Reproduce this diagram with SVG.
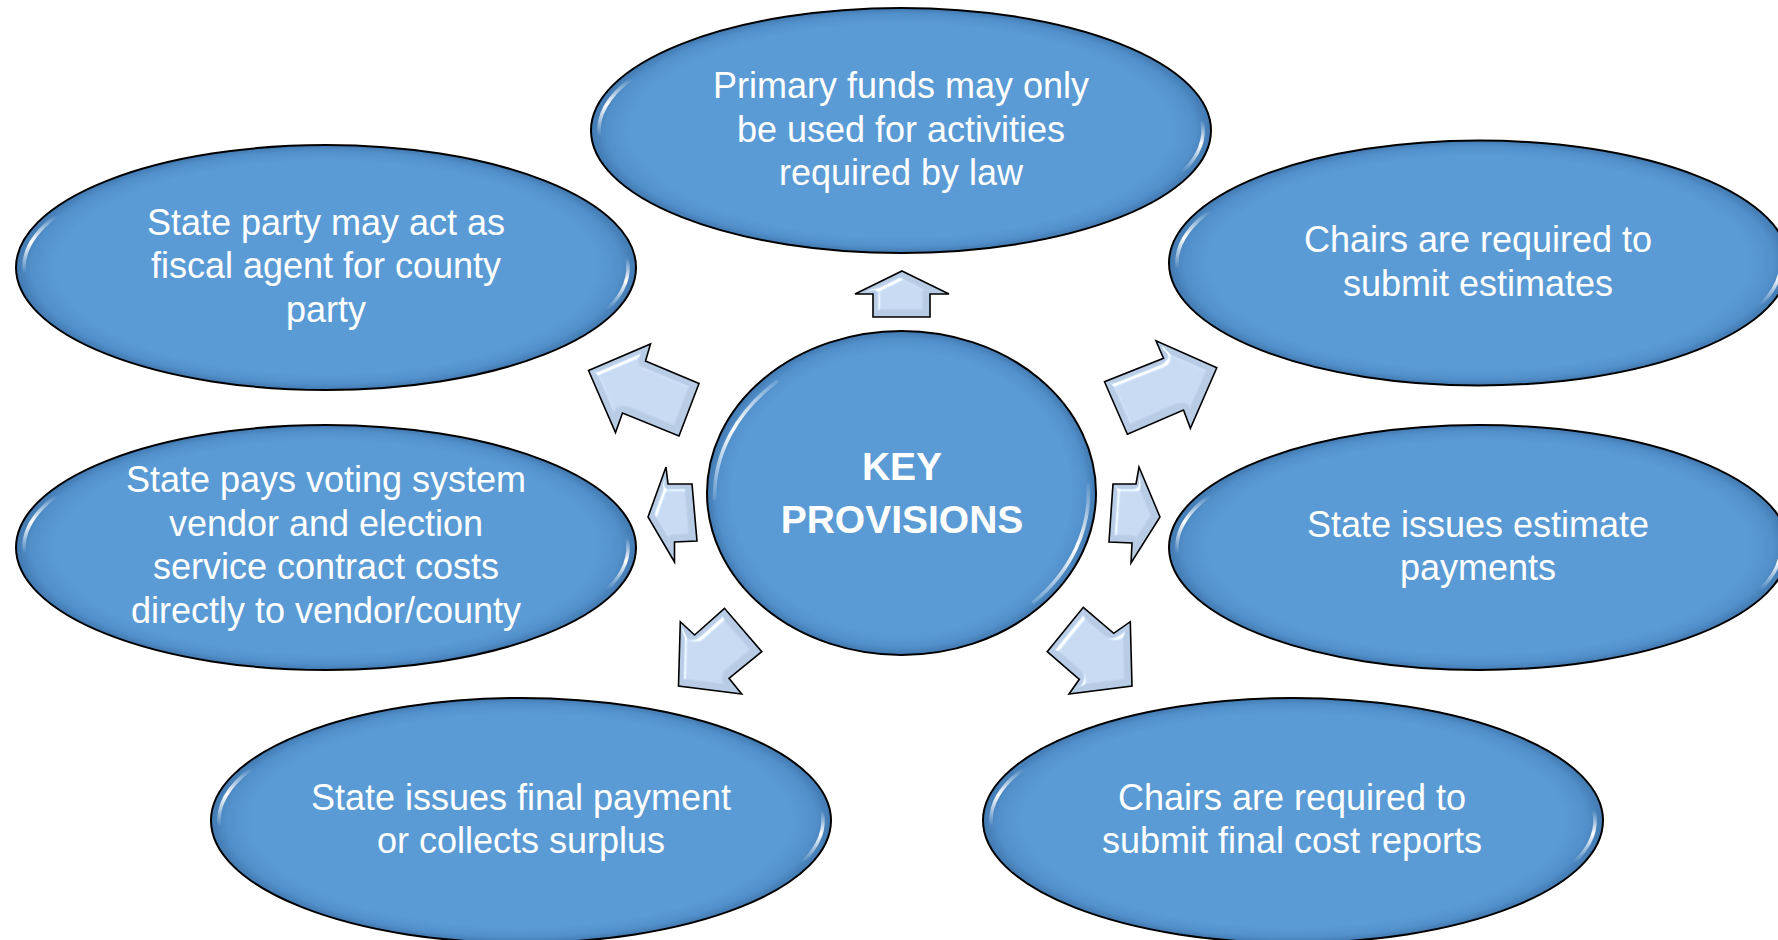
<svg xmlns="http://www.w3.org/2000/svg" xmlns:xlink="http://www.w3.org/1999/xlink" width="1778" height="940" viewBox="0 0 1778 940">
<style>
.bub{fill:url(#gBubble);stroke:#000;stroke-width:2}
.hlL{fill:none;stroke:url(#gHlL);stroke-width:3.5;stroke-linecap:round}
.hlR{fill:none;stroke:url(#gHlR);stroke-width:3.5;stroke-linecap:round}
.hlCL{fill:none;stroke:url(#gHlCL);stroke-width:3.5;stroke-linecap:round}
.hlCR{fill:none;stroke:url(#gHlCR);stroke-width:3.5;stroke-linecap:round}
.arrow{fill:#B8CCE6;stroke:#000;stroke-width:1.6;stroke-linejoin:miter;filter:url(#bevel)}
.t{font-family:"Liberation Sans",Arial,sans-serif;font-size:36px;fill:#fff;text-anchor:middle}
.tb{font-weight:bold;font-size:39px}
</style>
<defs>
<radialGradient id="gBubble" cx="0.5" cy="0.5" r="0.5">
<stop offset="0" stop-color="#5B9BD5"/>
<stop offset="0.87" stop-color="#5B9BD5"/>
<stop offset="0.95" stop-color="#5290CB"/>
<stop offset="1" stop-color="#4279B0"/>
</radialGradient>
<linearGradient id="gHlL" gradientUnits="userSpaceOnUse" x1="0" y1="-52" x2="0" y2="6">
<stop offset="0" stop-color="#fff" stop-opacity="0"/>
<stop offset="0.45" stop-color="#fff" stop-opacity="1"/>
<stop offset="1" stop-color="#fff" stop-opacity="0"/>
</linearGradient>
<linearGradient id="gHlR" gradientUnits="userSpaceOnUse" x1="0" y1="-10" x2="0" y2="42">
<stop offset="0" stop-color="#fff" stop-opacity="0"/>
<stop offset="0.45" stop-color="#fff" stop-opacity="1"/>
<stop offset="1" stop-color="#fff" stop-opacity="0"/>
</linearGradient>
<linearGradient id="gHlCL" gradientUnits="userSpaceOnUse" x1="-120" y1="-120" x2="-185" y2="20">
<stop offset="0" stop-color="#fff" stop-opacity="0"/>
<stop offset="0.45" stop-color="#fff" stop-opacity="1"/>
<stop offset="1" stop-color="#fff" stop-opacity="0"/>
</linearGradient>
<linearGradient id="gHlCR" gradientUnits="userSpaceOnUse" x1="188" y1="-15" x2="120" y2="120">
<stop offset="0" stop-color="#fff" stop-opacity="0"/>
<stop offset="0.45" stop-color="#fff" stop-opacity="1"/>
<stop offset="1" stop-color="#fff" stop-opacity="0"/>
</linearGradient>
<filter id="bevel" x="-20%" y="-20%" width="140%" height="140%">
<feMorphology in="SourceAlpha" operator="erode" radius="3" result="er"/>
<feGaussianBlur in="er" stdDeviation="2" result="blur"/>
<feSpecularLighting in="blur" surfaceScale="4" specularConstant="1" specularExponent="22" lighting-color="#ffffff" result="spec">
<feDistantLight azimuth="225" elevation="40"/>
</feSpecularLighting>
<feComposite in="spec" in2="er" operator="in" result="specIn"/>
<feComposite in="SourceGraphic" in2="specIn" operator="arithmetic" k1="0" k2="1" k3="0.9" k4="0"/>
</filter>
<g id="bubble">
<ellipse rx="310" ry="122.5" class="bub"/>
<path class="hlL" d="M -269.4,-52 A 302 115 0 0 0 -301.6,6"/>
<path class="hlR" d="M 300.9,-10 A 302 115 0 0 1 281.1,42"/>
</g>
</defs>
<rect width="1778" height="940" fill="#fff"/>
<g id="connectors">
<polygon class="arrow" points="902,271 949,294 930,294 930,317 873,317 873,294 855,294"/>
<polygon class="arrow" points="588.5,370.5 650.5,344 645.5,361 699,383.5 679,436 622.5,413 615.5,432.5"/>
<polygon class="arrow" points="1216.8,367.7 1156,340.7 1163.5,358.3 1104.5,381.7 1127.4,434.3 1183.5,410 1190.4,428.3"/>
<polygon class="arrow" points="648,517 666,467 668,484 692,484 697,541 674.5,542 674.5,562"/>
<polygon class="arrow" points="1160,517 1139,467 1136,484 1113,484 1109,542 1132,543 1131,563"/>
<polygon class="arrow" points="678.5,686 680.3,621.7 694.6,635 724.5,608.3 761.8,651.7 729,678.3 741.7,694"/>
<polygon class="arrow" points="1132,686 1130.3,621.7 1113.7,633.3 1083.3,607.3 1047.2,651.7 1079.3,679.3 1069,694"/>
</g>
<g id="node-center">
<ellipse cx="901.5" cy="493" rx="194.5" ry="162" class="bub"/>
<g transform="translate(901.5,493)">
<path class="hlCL" d="M -124.6,-111.4 A 187 154 0 0 0 -186.9,5.4"/>
<path class="hlCR" d="M 186.7,-8.1 A 187 154 0 0 1 132.2,108.9"/>
</g>
<text class="t tb" x="902" y="480">KEY</text>
<text class="t tb" x="902" y="533">PROVISIONS</text>
</g>
<g id="node-primary-funds">
<use xlink:href="#bubble" href="#bubble" transform="translate(901,130.5)"/>
<text class="t" x="901" y="98">Primary funds may only</text>
<text class="t" x="901" y="142">be used for activities</text>
<text class="t" x="901" y="185">required by law</text>
</g>
<g id="node-fiscal-agent">
<use xlink:href="#bubble" href="#bubble" transform="translate(326,267.5)"/>
<text class="t" x="326" y="235">State party may act as</text>
<text class="t" x="326" y="278">fiscal agent for county</text>
<text class="t" x="326" y="322">party</text>
</g>
<g id="node-submit-estimates">
<use xlink:href="#bubble" href="#bubble" transform="translate(1479,263)"/>
<text class="t" x="1478" y="252">Chairs are required to</text>
<text class="t" x="1478" y="296">submit estimates</text>
</g>
<g id="node-voting-system">
<use xlink:href="#bubble" href="#bubble" transform="translate(326,547.5)"/>
<text class="t" x="326" y="492">State pays voting system</text>
<text class="t" x="326" y="536">vendor and election</text>
<text class="t" x="326" y="579">service contract costs</text>
<text class="t" x="326" y="623">directly to vendor/county</text>
</g>
<g id="node-estimate-payments">
<use xlink:href="#bubble" href="#bubble" transform="translate(1479,547.5)"/>
<text class="t" x="1478" y="537">State issues estimate</text>
<text class="t" x="1478" y="580">payments</text>
</g>
<g id="node-final-payment">
<use xlink:href="#bubble" href="#bubble" transform="translate(521,820.5)"/>
<text class="t" x="521" y="810">State issues final payment</text>
<text class="t" x="521" y="853">or collects surplus</text>
</g>
<g id="node-final-cost-reports">
<use xlink:href="#bubble" href="#bubble" transform="translate(1293,820.5)"/>
<text class="t" x="1292" y="810">Chairs are required to</text>
<text class="t" x="1292" y="853">submit final cost reports</text>
</g>
</svg>
